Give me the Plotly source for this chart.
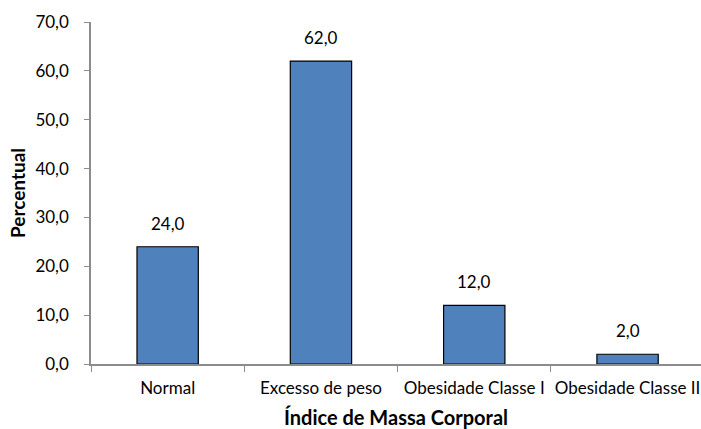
import plotly.graph_objects as go

categorias = ["Normal", "Excesso de peso", "Obesidade Classe I", "Obesidade Classe II"]
percentual = [24.0, 62.0, 12.0, 2.0]
y_ticks = [0, 10, 20, 30, 40, 50, 60, 70]

FONT = "Lato"
AXIS_GRAY = "#8C8C8C"

fig = go.Figure(
    go.Bar(
        x=categorias,
        y=percentual,
        width=0.40,
        marker=dict(color="#4F81BD", line=dict(color="#000000", width=1.2)),
        cliponaxis=False,
    )
)

# value labels above each bar
for cat, val in zip(categorias, percentual):
    fig.add_annotation(
        x=cat,
        y=val,
        text=f"{val:.1f}".replace(".", ","),
        showarrow=False,
        yanchor="bottom",
        yshift=11,
        font=dict(family=FONT, size=17, color="#000000"),
    )

fig.update_layout(
    width=701,
    height=429,
    margin=dict(l=91, r=0, t=22, b=65, autoexpand=False),
    paper_bgcolor="white",
    plot_bgcolor="white",
    separators=",.",
    showlegend=False,
    font=dict(family=FONT, size=17, color="#000000"),
)

fig.update_xaxes(
    type="category",
    range=[-0.5, 3.479],
    showline=True,
    linecolor=AXIS_GRAY,
    linewidth=1.5,
    ticks="outside",
    ticklen=6,
    tickcolor=AXIS_GRAY,
    tickson="boundaries",
    showgrid=False,
    tickfont=dict(family=FONT, size=17),
    ticklabelstandoff=8,
    title=dict(text="<b>Índice de Massa Corporal</b>", font=dict(family=FONT, size=20), standoff=14),
)

fig.update_yaxes(
    range=[0, 70],
    tickvals=y_ticks,
    tickformat=".1f",
    showline=True,
    linecolor=AXIS_GRAY,
    linewidth=1.5,
    ticks="outside",
    ticklen=5,
    tickcolor=AXIS_GRAY,
    showgrid=False,
    zeroline=False,
    tickfont=dict(family=FONT, size=17),
    ticklabelstandoff=12,
    title=dict(text="<b>Percentual</b>", font=dict(family=FONT, size=19), standoff=5),
)

fig.write_html("out.html")
